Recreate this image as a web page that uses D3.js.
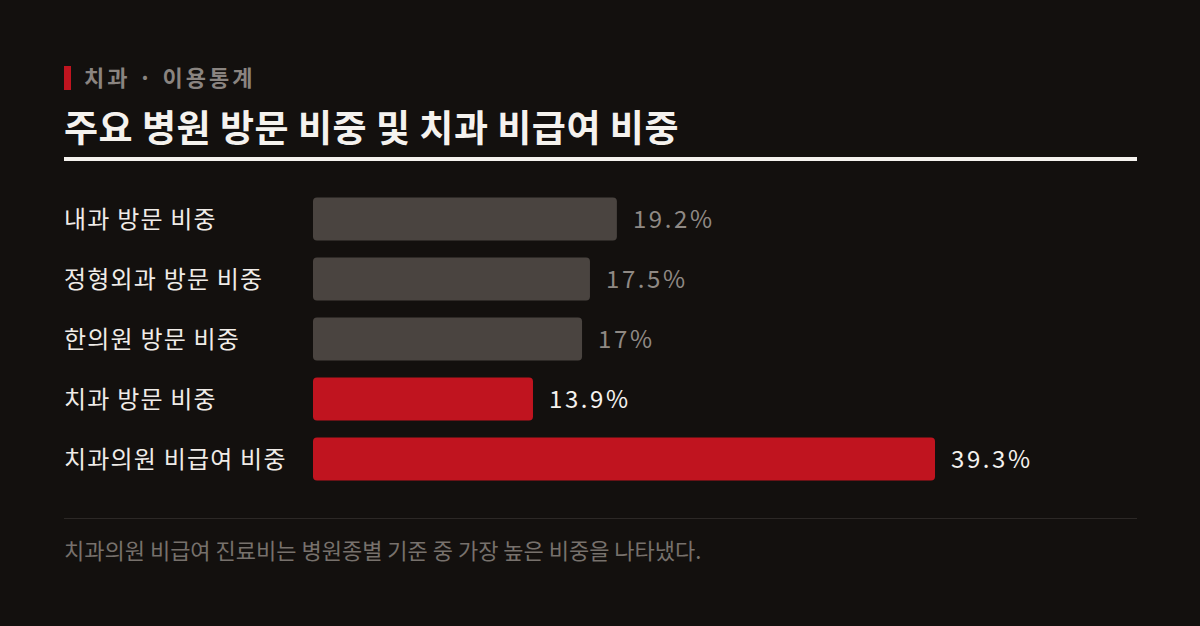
<!DOCTYPE html>
<html><head><meta charset="utf-8">
<script src="https://cdn.jsdelivr.net/npm/d3@7"></script>
<style>
html,body{margin:0;padding:0;background:#13100e;}
svg{display:block;}
text{font-family:"Noto Sans CJK KR","Noto Sans",sans-serif;}
</style></head>
<body>
<script>
const categories = ["내과 방문 비중","정형외과 방문 비중","한의원 방문 비중","치과 방문 비중","치과의원 비급여 비중"];
const values = [19.2, 17.5, 17, 13.9, 39.3];
const valueLabels = ["19.2%","17.5%","17%","13.9%","39.3%"];
const highlight = [false,false,false,true,true];
const kicker = "치과 · 이용통계";
const title = "주요 병원 방문 비중 및 치과 비급여 비중";
const note = "치과의원 비급여 진료비는 병원종별 기준 중 가장 높은 비중을 나타냈다.";

const W=1200,H=626;
const svg=d3.select("body").append("svg").attr("width",W).attr("height",H);
svg.append("rect").attr("width",W).attr("height",H).attr("fill","#13100e");

// header
svg.append("rect").attr("x",64).attr("y",66).attr("width",7).attr("height",24).attr("fill","#c0141f");
svg.append("text").attr("x",84).attr("y",86).attr("fill","#8a8480").attr("font-size",22).attr("font-weight",700).attr("letter-spacing",3).text(kicker);
svg.append("text").attr("x",64).attr("y",142).attr("fill","#f5f2ee").attr("font-size",37).attr("font-weight",700).attr("letter-spacing",0.5).text(title);
svg.append("rect").attr("x",64).attr("y",157).attr("width",1073).attr("height",4).attr("fill","#f5f2ee");

// scales
const x=d3.scaleLinear().domain([0,d3.max(values)]).range([313,935]);
const y=d3.scaleBand().domain(categories).range([189,489]).paddingInner(0.2833).paddingOuter(0.1417);

const g=svg.append("g");
const rows=g.selectAll("g.row").data(categories.map((c,i)=>({c,v:values[i],l:valueLabels[i],h:highlight[i]}))).join("g").attr("class","row");
rows.append("text").attr("x",64).attr("y",d=>y(d.c)+y.bandwidth()/2).attr("dy","0.36em")
  .attr("fill","#f0ece8").attr("font-size",24).attr("letter-spacing",1.2).text(d=>d.c);
rows.append("rect").attr("x",x(0)).attr("y",d=>y(d.c)).attr("width",d=>x(d.v)-x(0)).attr("height",y.bandwidth())
  .attr("rx",4).attr("fill",d=>d.h?"#c0141f":"#4a4440");
rows.append("text").attr("x",d=>x(d.v)+16).attr("y",d=>y(d.c)+y.bandwidth()/2).attr("dy","0.36em")
  .attr("fill",d=>d.h?"#f5f2ee":"#8f8984").attr("font-size",24).attr("letter-spacing",2.6).text(d=>d.l);

// footer
svg.append("rect").attr("x",64).attr("y",518).attr("width",1073).attr("height",1).attr("fill","#2c2826");
svg.append("text").attr("x",64).attr("y",559).attr("fill","#77716c").attr("font-size",22).text(note);
</script>
</body></html>
